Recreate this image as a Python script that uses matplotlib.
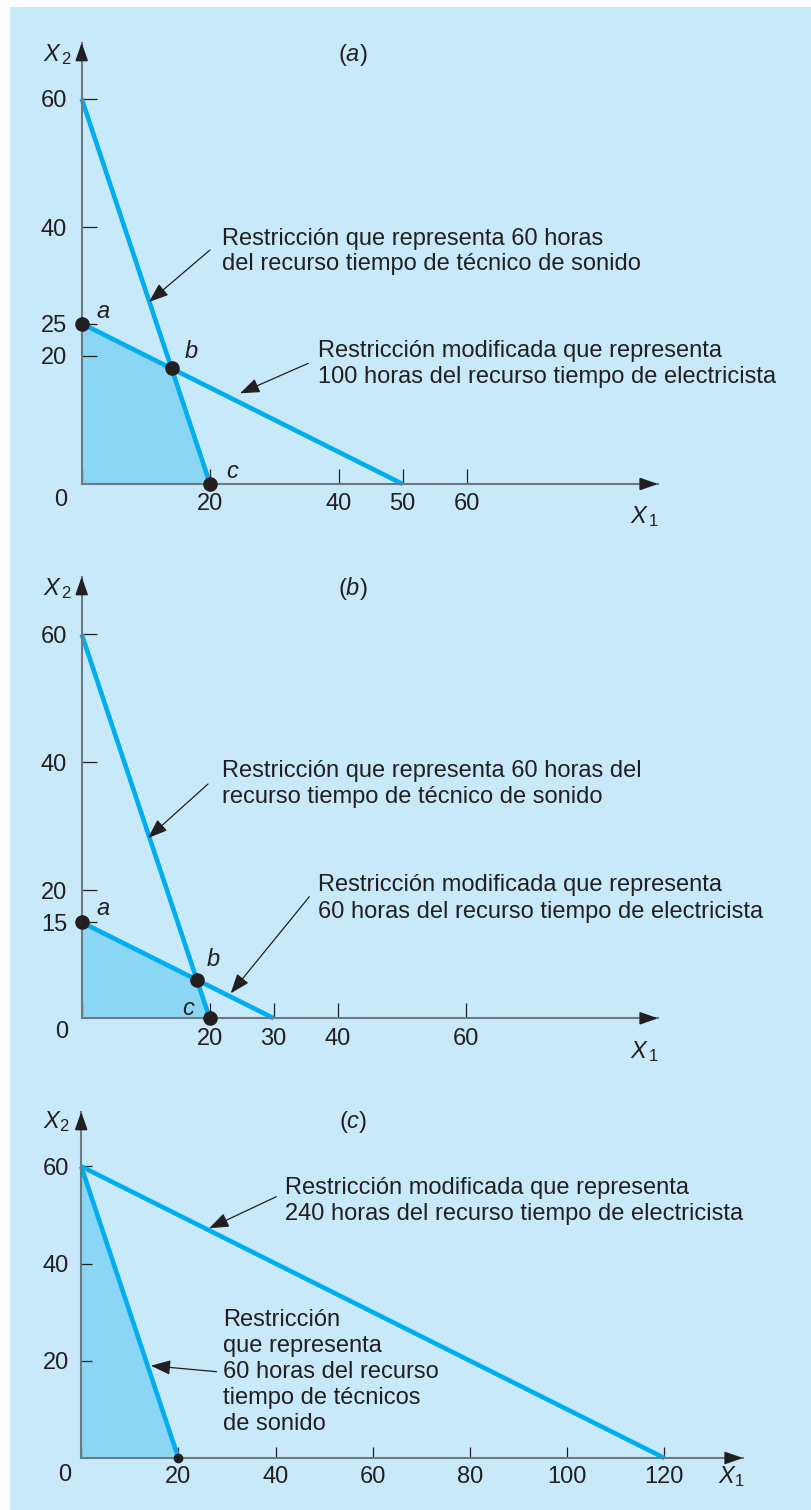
import matplotlib
matplotlib.use('Agg')
import matplotlib.pyplot as plt
from matplotlib.patches import Rectangle, Polygon

W, H = 811, 1510
plt.rcParams['font.family'] = ['Liberation Sans', 'DejaVu Sans']
plt.rcParams['mathtext.fontset'] = 'custom'
plt.rcParams['mathtext.rm'] = 'Liberation Sans'
plt.rcParams['mathtext.it'] = 'Liberation Sans:italic'

BG = '#C7E9F9'
FILL = '#8CD6F5'
LINE = '#00AEEF'
INK = '#231F20'
AXIS = '#6E7A82'
FS = 17

# ---------------- data ----------------
# sound technician constraint (same in all panels)
sound_x = [0, 20]
sound_y = [60, 0]
# electrician constraint per panel
elec_a_x = [0, 50]
elec_a_y = [25, 0]
elec_b_x = [0, 30]
elec_b_y = [15, 0]
elec_c_x = [0, 120]
elec_c_y = [60, 0]
# feasible regions (corner points)
region_a_x = [0, 0, 14, 20]
region_a_y = [0, 25, 18, 0]
region_b_x = [0, 0, 18, 20]
region_b_y = [0, 15, 6, 0]
region_c_x = [0, 0, 20]
region_c_y = [0, 60, 0]
# labelled corner points
pts_a_x = [0, 14, 20]
pts_a_y = [25, 18, 0]
pts_b_x = [0, 18, 20]
pts_b_y = [15, 6, 0]
pts_c_x = [20]
pts_c_y = [0]
# ticks
xticks_a = [0, 20, 40, 50, 60]
yticks_a = [20, 25, 40, 60]
xticks_b = [0, 20, 30, 40, 60]
yticks_b = [15, 20, 40, 60]
xticks_c = [0, 20, 40, 60, 80, 100, 120]
yticks_c = [20, 40, 60]

fig = plt.figure(figsize=(W / 100, H / 100), dpi=100)
fig.patch.set_facecolor('white')
fig.patches.append(Rectangle((10 / W, 0), (W - 10) / W, (H - 7) / H,
                             transform=fig.transFigure, facecolor=BG,
                             edgecolor='none', zorder=-10))


def fpx(x, y):
    """figure pixel coords from top-left image coordinates"""
    return (x, H - y)


def make_axes(ox, oy, right, top, scale, xticks, yticks, ticklen, xpad, ypad):
    xmax = (right - ox) / scale
    ymax = (oy - top) / scale
    ax = fig.add_axes([ox / W, (H - oy) / H, (right - ox) / W, (oy - top) / H])
    ax.set_xlim(0, xmax)
    ax.set_ylim(0, ymax)
    ax.patch.set_alpha(0)
    for s in ['top', 'right']:
        ax.spines[s].set_visible(False)
    for s in ['left', 'bottom']:
        ax.spines[s].set_color(AXIS)
        ax.spines[s].set_linewidth(1.5)
        ax.spines[s].set_zorder(2.5)
    ax.set_xticks(xticks)
    ax.set_xticklabels(['' if t == 0 else str(t) for t in xticks])
    ax.set_yticks(yticks)
    ax.set_yticklabels([str(t) for t in yticks])
    ax.tick_params(axis='both', direction='in', length=ticklen, width=0.9,
                   color=INK, labelcolor=INK, labelsize=FS)
    ax.tick_params(axis='x', pad=xpad)
    ax.tick_params(axis='y', pad=ypad)
    hp = dict(arrowstyle='-|>,head_length=1.0,head_width=0.35', color=INK,
              lw=1.2, mutation_scale=11, shrinkA=0, shrinkB=0)
    ax.annotate('', xy=(1, 0), xycoords='axes fraction', xytext=(-14, 0),
                textcoords='offset pixels', arrowprops=hp, annotation_clip=False)
    ax.annotate('', xy=(0, 1), xycoords='axes fraction', xytext=(0, -14),
                textcoords='offset pixels', arrowprops=hp, annotation_clip=False)
    return ax


def draw(ax, ex, ey, rx, ry, px_, py_, msize):
    ax.add_patch(Polygon(list(zip(rx, ry)), closed=True, facecolor=FILL,
                         edgecolor='none', zorder=1, clip_on=False))
    ax.plot(sound_x, sound_y, color=LINE, lw=3.3, solid_capstyle='butt',
            zorder=2, clip_on=False)
    ax.plot(ex, ey, color=LINE, lw=3.3, solid_capstyle='butt',
            zorder=2, clip_on=False)
    ax.plot(px_, py_, 'o', color=INK, ms=msize, zorder=5, clip_on=False)


def arrow(start, tip):
    fig.add_artist(matplotlib.text.Annotation(
        '', xy=fpx(*tip), xycoords='figure pixels',
        xytext=fpx(*start), textcoords='figure pixels',
        arrowprops=dict(arrowstyle='-|>,head_length=0.75,head_width=0.28',
                        color=INK, lw=0.9, mutation_scale=16,
                        shrinkA=0, shrinkB=0)))


def label(x, y, s, ha='left', va='center', ls=1.21, **kw):
    fig.text(x / W, (H - y) / H, s, ha=ha, va=va, fontsize=FS, color=INK,
             linespacing=ls, **kw)


# ---------------- panel (a) ----------------
axa = make_axes(81.7, 484, 658, 42.7, 6.42, xticks_a, yticks_a, 10.5, 6.8, 10.5)
draw(axa, elec_a_x, elec_a_y, region_a_x, region_a_y, pts_a_x, pts_a_y, 9.5)
label(353, 55, r'($\mathit{a}$)', ha='center')
label(57, 55, r'$\mathit{X}_{\,\mathrm{2}}$', ha='center')
label(644, 517, r'$\mathit{X}_{\,\mathrm{1}}$', ha='center')
label(61, 500, '0', ha='center')
label(103.3, 311.7, 'a', ha='center', style='italic')
label(191.7, 351.7, 'b', ha='center', style='italic')
label(231.7, 471.7, 'c', ha='center', style='italic')
label(222, 251.5, 'Restricción que representa 60 horas\ndel recurso tiempo de técnico de sonido')
arrow((210, 250), (149, 302))
label(318.3, 364.2, 'Restricción modificada que representa\n100 horas del recurso tiempo de electricista')
arrow((308.3, 363.3), (240, 393.3))

# ---------------- panel (b) ----------------
axb = make_axes(81.7, 1018.3, 658, 576.7, 6.4, xticks_b, yticks_b, 10.5, 6.8, 10.5)
draw(axb, elec_b_x, elec_b_y, region_b_x, region_b_y, pts_b_x, pts_b_y, 9.5)
label(353, 588.3, r'($\mathit{b}$)', ha='center')
label(57, 588.3, r'$\mathit{X}_{\,\mathrm{2}}$', ha='center')
label(644, 1052, r'$\mathit{X}_{\,\mathrm{1}}$', ha='center')
label(61.7, 1031.7, '0', ha='center')
label(103.3, 908.3, 'a', ha='center', style='italic')
label(213.3, 960, 'b', ha='center', style='italic')
label(188.3, 1008.3, 'c', ha='center', style='italic')
label(222, 784.2, 'Restricción que representa 60 horas del\nrecurso tiempo de técnico de sonido')
arrow((208, 784), (148, 838))
label(318.3, 898.3, 'Restricción modificada que representa\n60 horas del recurso tiempo de electricista', ls=1.27)
arrow((309.3, 896.7), (230.7, 993.3))

# ---------------- panel (c) ----------------
axc = make_axes(81.2, 1458, 743, 1111.7, 4.86, xticks_c, yticks_c, 8, 6, 9)
draw(axc, elec_c_x, elec_c_y, region_c_x, region_c_y, pts_c_x, pts_c_y, 6)
label(353.4, 1121.7, r'($\mathit{c}$)', ha='center')
label(56, 1121.7, r'$\mathit{X}_{\mathrm{2}}$', ha='center')
label(731, 1477, r'$\mathit{X}_{\mathrm{1}}$', ha='center')
label(64.8, 1475, '0', ha='center')
label(285.2, 1200.9, 'Restricción modificada que representa\n240 horas del recurso tiempo de electricista')
arrow((276.3, 1196.7), (209.1, 1228.3))
label(223, 1371.7, 'Restricción\nque representa\n60 horas del recurso\ntiempo de técnicos\nde sonido', ls=1.24)
arrow((216.6, 1371.7), (150.9, 1365.7))

fig.savefig('out.png', dpi=100, facecolor=fig.get_facecolor())
